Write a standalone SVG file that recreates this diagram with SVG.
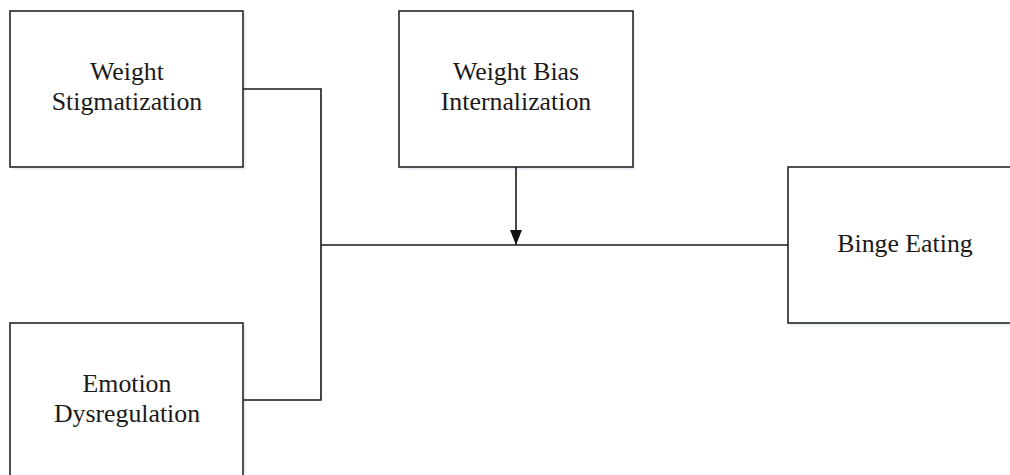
<svg xmlns="http://www.w3.org/2000/svg" width="1010" height="475" viewBox="0 0 1010 475">
  <style>
    .box { fill: #ffffff; stroke: #262626; stroke-width: 1.6; }
    .shadow { fill: #dfe8f4; opacity: 0.6; }
    .label { font-family: "Liberation Serif", "Times New Roman", serif; font-size: 25.8px; fill: #1a1a1a; text-anchor: middle; }
    .wire { fill: none; stroke: #1a1a1a; stroke-width: 1.6; }
  </style>
  <defs>
    <!-- filled triangular head, drawn along +x so orient="auto" follows the line -->
    <marker id="arrowhead" viewBox="0 0 15 12" refX="15" refY="6" markerWidth="15" markerHeight="12" markerUnits="userSpaceOnUse" orient="auto">
      <path d="M0,0 L15,6 L0,12 Z" fill="#111111"/>
    </marker>
  </defs>
  <rect width="1010" height="475" fill="#ffffff"/>

  <g id="weight-stigmatization">
    <rect class="shadow" x="12" y="13" width="234" height="157"/>
    <rect class="box" x="10" y="11" width="233" height="156"/>
    <text class="label" x="127" y="80">Weight</text>
    <text class="label" x="127" y="110">Stigmatization</text>
  </g>

  <g id="weight-bias-internalization">
    <rect class="shadow" x="401" y="13" width="234" height="157"/>
    <rect class="box" x="399" y="11" width="234" height="156"/>
    <text class="label" x="516" y="80">Weight Bias</text>
    <text class="label" x="516" y="110">Internalization</text>
  </g>

  <g id="binge-eating">
    <rect class="shadow" x="790" y="169" width="240" height="157"/>
    <rect class="box" x="788" y="167" width="240" height="156"/>
    <text class="label" x="905" y="252">Binge Eating</text>
  </g>

  <g id="emotion-dysregulation">
    <rect class="shadow" x="12" y="325" width="234" height="170"/>
    <rect class="box" x="10" y="323" width="233" height="170"/>
    <text class="label" x="127" y="392">Emotion</text>
    <text class="label" x="127" y="422">Dysregulation</text>
  </g>

  <g id="connectors">
    <polyline class="wire" points="243,89 321,89 321,400 243,400"/>
    <line class="wire" x1="321" y1="245" x2="788" y2="245"/>
    <line class="wire" x1="516" y1="167" x2="516" y2="245" marker-end="url(#arrowhead)"/>
  </g>
</svg>
